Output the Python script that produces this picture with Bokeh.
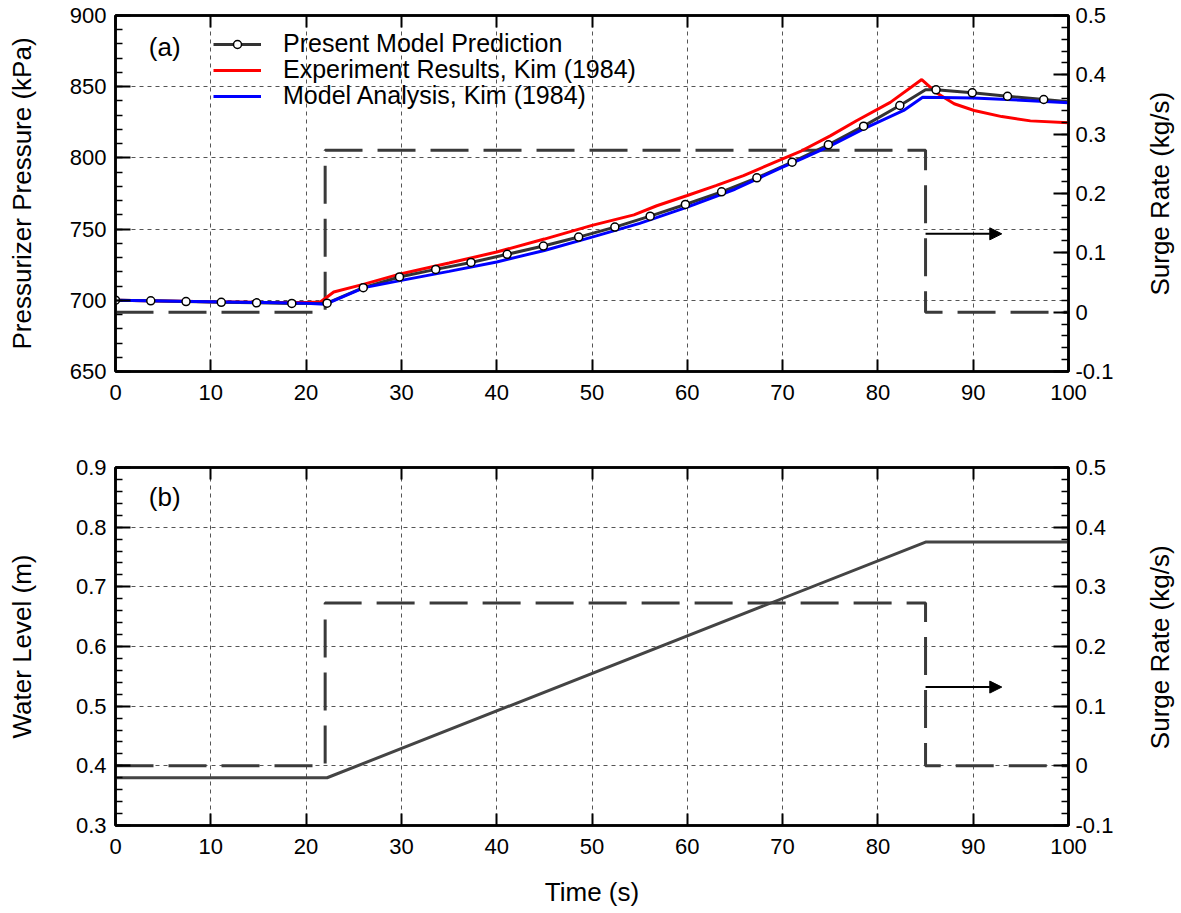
import numpy as np
from bokeh.plotting import figure
from bokeh.layouts import column
from bokeh.models import (Range1d, LinearAxis, FixedTicker, Legend, LegendItem,
                          Label, Arrow, NormalHead, CustomJSTickFormatter)
from bokeh.embed import file_html
from bokeh.resources import INLINE

FONT = "Liberation Sans"

# ---------------- data ----------------
# (a) Pressurizer pressure (kPa) vs time (s)
pm_t = [0, 3.7, 7.4, 11.1, 14.8, 18.5, 22.2, 26.0, 29.8, 33.6, 37.3, 41.1, 44.9,
        48.6, 52.4, 56.1, 59.8, 63.6, 67.3, 71.0, 74.8, 78.5, 82.3, 85.0, 86.1,
        89.9, 93.6, 97.4, 100]
pm_p = [700.1, 699.6, 699.1, 698.6, 698.2, 697.8, 698.0, 708.9, 716.4, 721.7,
        726.6, 732.3, 738.1, 744.4, 751.4, 759.1, 767.3, 776.2, 786.0, 797.0,
        809.2, 822.3, 836.8, 847.8, 847.8, 845.7, 843.3, 841.0, 839.5]
pm_marker = [True] * 23 + [False] + [True] * 4 + [False]

ex_t = [0, 5, 10, 15, 20, 21.5, 22.9, 26, 30, 35, 40, 45, 50, 54.4, 56.8, 60, 63,
        65.9, 70, 72, 75, 77.8, 81.3, 84.6, 86.1, 88, 90.1, 93, 96, 100]
ex_p = [700, 699.5, 699, 698.7, 698.5, 698.8, 705.8, 711.2, 718.7, 726.2, 733.9,
        743.0, 752.6, 760.0, 766.4, 773.6, 780.5, 787.6, 799.3, 805, 815.5, 826.3,
        839, 855, 846, 838, 833.3, 829, 826, 824.6]

ma_t = [0, 10, 20, 22, 26.1, 30, 35, 40, 45, 50, 55, 60, 65, 70, 72, 75, 78.5,
        82.7, 84.7, 90, 95, 100]
ma_p = [700, 699, 698, 697.2, 708.9, 714, 720.3, 726.9, 735, 744.4, 754, 765.4,
        778, 793.5, 799.3, 808.5, 820.4, 833.3, 842.6, 842, 840.5, 838.7]

# surge rate (kg/s), both panels
surge_t = [0, 22.0, 22.0, 85.0, 85.0, 100]
surge_q = [0, 0, 0.273, 0.273, 0, 0]

# (b) water level (m)
wl_t = [0, 22.2, 85.0, 100]
wl_h = [0.38, 0.38, 0.775, 0.775]

# ticks
x_ticks = [0, 10, 20, 30, 40, 50, 60, 70, 80, 90, 100]
pa_ticks = [650, 700, 750, 800, 850, 900]
pa_labels = ["650", "700", "750", "800", "850", "900"]
wl_ticks = [0.3, 0.4, 0.5, 0.6, 0.7, 0.8, 0.9]
wl_labels = ["0.3", "0.4", "0.5", "0.6", "0.7", "0.8", "0.9"]
sr_ticks = [-0.1, 0, 0.1, 0.2, 0.3, 0.4, 0.5]
sr_labels = ["-0.1", "0", "0.1", "0.2", "0.3", "0.4", "0.5"]

LEGEND_LABELS = ["Present Model Prediction", "Experiment Results, Kim (1984)",
                 "Model Analysis, Kim (1984)"]
SURGE_TITLE = "Surge Rate (kg/s)"
SURGE_TITLE_START = 0.028   # surge value where the bottom-to-top title begins

GRID_COLOR = "#555555"
AX_W = 2.5
FRAME_W = 953


def style_axis(ax, tick_in, minor_in):
    ax.axis_line_color = "black"
    ax.axis_line_width = AX_W
    ax.major_tick_line_color = "black"
    ax.major_tick_line_width = 2
    ax.minor_tick_line_color = "black"
    ax.minor_tick_line_width = 1.5
    ax.major_tick_in = tick_in
    ax.major_tick_out = 0
    ax.minor_tick_in = minor_in
    ax.minor_tick_out = 0
    ax.major_label_text_font = FONT
    ax.major_label_text_font_size = "22px"
    ax.major_label_text_color = "black"
    ax.axis_label_text_font = FONT
    ax.axis_label_text_font_size = "26px"
    ax.axis_label_text_font_style = "normal"
    ax.axis_label_text_color = "black"


def make_fig(yr, yticks, yminor, ylabels, ytitle, ytitle_standoff,
             border_top, frame_h, border_bottom, xtitle):
    p = figure(frame_width=FRAME_W, frame_height=frame_h,
               x_range=Range1d(0, 100), y_range=Range1d(*yr),
               output_backend="svg", toolbar_location=None,
               min_border_left=115, min_border_right=100,
               min_border_top=border_top, min_border_bottom=border_bottom,
               background_fill_color="white", border_fill_color="white")
    p.outline_line_color = "black"
    p.outline_line_width = AX_W
    p.extra_y_ranges = {"surge": Range1d(-0.1, 0.5)}

    # bottom x axis
    xa = p.xaxis[0]
    xa.ticker = FixedTicker(ticks=x_ticks, minor_ticks=[])
    style_axis(xa, 12, 0)
    xa.major_label_standoff = 13
    if xtitle:
        xa.axis_label = xtitle
        xa.axis_label_standoff = 20

    # left y axis
    ya = p.yaxis[0]
    ya.ticker = FixedTicker(ticks=yticks, minor_ticks=yminor)
    ya.major_label_overrides = {t: l for t, l in zip(yticks, ylabels)}
    style_axis(ya, 15, 7)
    ya.major_label_standoff = 9
    ya.axis_label = ytitle
    ya.axis_label_standoff = ytitle_standoff

    # top axis (ticks only)
    ta = LinearAxis(ticker=FixedTicker(ticks=x_ticks, minor_ticks=[]),
                    formatter=CustomJSTickFormatter(code="return ''"))
    style_axis(ta, 12, 0)
    ta.major_label_text_font_size = "0px"
    ta.major_label_standoff = 0
    p.add_layout(ta, "above")

    # right surge axis
    ra = LinearAxis(y_range_name="surge",
                    ticker=FixedTicker(ticks=sr_ticks,
                                       minor_ticks=np.round(np.arange(-0.1, 0.5001, 0.02), 2).tolist()))
    ra.major_label_overrides = {t: l for t, l in zip(sr_ticks, sr_labels)}
    style_axis(ra, 15, 7)
    ra.major_label_standoff = 7
    p.add_layout(ra, "right")

    # right-axis title (bottom-to-top), drawn as the single label of a bare outer axis
    tt = LinearAxis(y_range_name="surge",
                    ticker=FixedTicker(ticks=[SURGE_TITLE_START], minor_ticks=[]))
    tt.major_label_overrides = {SURGE_TITLE_START: SURGE_TITLE}
    tt.major_label_orientation = np.pi / 2
    tt.axis_line_color = None
    tt.major_tick_line_color = None
    tt.minor_tick_line_color = None
    tt.major_tick_in = 0
    tt.major_tick_out = 0
    tt.minor_tick_in = 0
    tt.minor_tick_out = 0
    tt.major_label_standoff = 44
    tt.major_label_text_font = FONT
    tt.major_label_text_font_size = "26px"
    tt.major_label_text_line_height = 0.6
    tt.major_label_text_color = "black"
    p.add_layout(tt, "right")

    for g in (p.xgrid[0], p.ygrid[0]):
        g.grid_line_color = GRID_COLOR
        g.grid_line_dash = "4 4"
        g.grid_line_width = 1

    # surge step (dashed)
    p.line(surge_t, surge_q, y_range_name="surge", line_color="#3a3a3a",
           line_width=3, line_dash="38 15")
    p.add_layout(Arrow(end=NormalHead(size=12, fill_color="black", line_color="black"),
                       x_start=85, y_start=0.132, x_end=93, y_end=0.132,
                       line_color="black", line_width=2, y_range_name="surge"))
    return p


# ---------------- panel (a) ----------------
FH1 = 356
pa_minor = np.arange(650, 901, 10).tolist()
p1 = make_fig((650, 900), pa_ticks, pa_minor, pa_labels, "Pressurizer Pressure (kPa)", 30,
              15, FH1, 49, None)

r_ex = p1.line(ex_t, ex_p, line_color="#ff0000", line_width=3)
r_pm = p1.line(pm_t, pm_p, line_color="#333333", line_width=3)
r_ma = p1.line(ma_t, ma_p, line_color="#0000ff", line_width=3)
mk_t = [t for t, m in zip(pm_t, pm_marker) if m]
mk_p = [v for v, m in zip(pm_p, pm_marker) if m]
r_mk = p1.scatter(mk_t, mk_p, marker="circle", size=8, fill_color="white",
                  line_color="black", line_width=1.5)

# one legend per row, so the row pitch can follow the reference
row_renderers = [[r_pm, r_mk], [r_ex], [r_ma]]
row_centres = [29, 55, 81]          # px below the frame top
for lab, rends, yc in zip(LEGEND_LABELS, row_renderers, row_centres):
    lg = Legend(items=[LegendItem(label=lab, renderers=rends)],
                location=(98, FH1 - yc - 14), orientation="vertical",
                border_line_color=None, background_fill_alpha=0,
                label_text_font=FONT, label_text_font_size="25px",
                label_text_color="black",
                glyph_width=48, glyph_height=20, label_height=24,
                label_standoff=22, spacing=0, padding=0, margin=0)
    p1.add_layout(lg)

p1.add_layout(Label(x=3.5, y=878, text="(a)", text_font=FONT, text_font_size="26px",
                    text_baseline="middle", text_color="black"))

# ---------------- panel (b) ----------------
wl_minor = np.round(np.arange(0.3, 0.9001, 0.02), 2).tolist()
p2 = make_fig((0.3, 0.9), wl_ticks, wl_minor, wl_labels, "Water Level (m)", 36,
              47, 358, 86, "Time (s)")
p2.line(wl_t, wl_h, line_color="#444444", line_width=3)
p2.add_layout(Label(x=3.5, y=0.85, text="(b)", text_font=FONT, text_font_size="26px",
                    text_baseline="middle", text_color="black"))

layout = column(p1, p2, spacing=0)
open("out.html", "w").write(file_html(layout, INLINE))
